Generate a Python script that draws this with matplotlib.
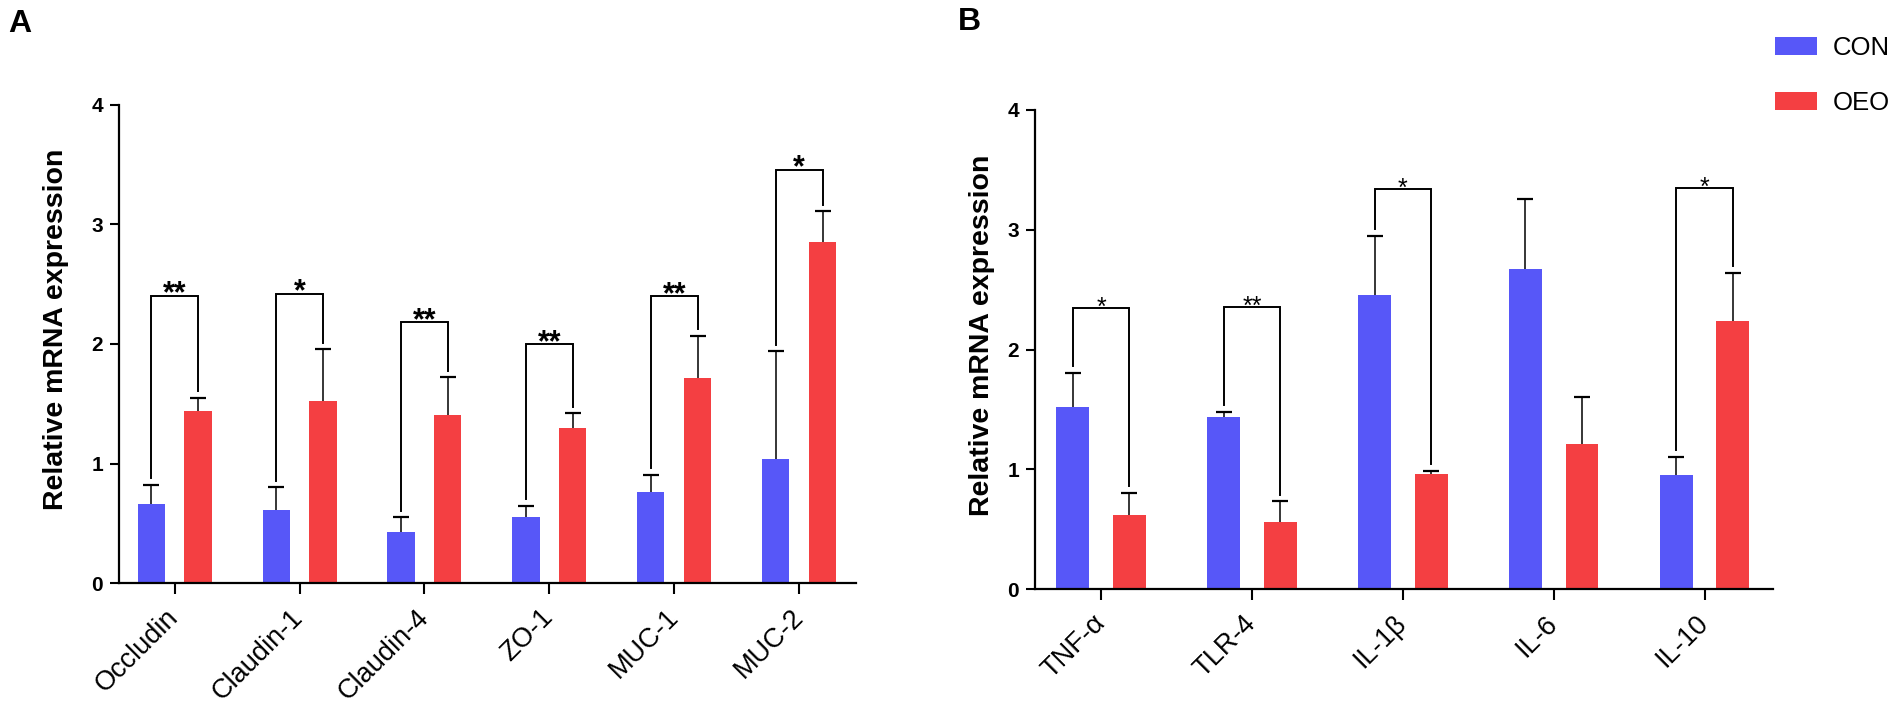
import numpy as np
import matplotlib
matplotlib.use('Agg')
import matplotlib.pyplot as plt
import matplotlib.transforms as mtransforms

plt.rcParams['font.family'] = ['Liberation Sans', 'DejaVu Sans']

# panel A: barrier genes
genes_a = ['Occludin', 'Claudin-1', 'Claudin-4', 'ZO-1', 'MUC-1', 'MUC-2']
con_a = [0.66, 0.61, 0.43, 0.55, 0.765, 1.04]
con_a_err = [0.16, 0.19, 0.12, 0.095, 0.14, 0.90]
oeo_a = [1.44, 1.525, 1.41, 1.30, 1.717, 2.85]
oeo_a_err = [0.11, 0.43, 0.31, 0.12, 0.35, 0.26]
brk_a = [2.405, 2.42, 2.18, 2.0, 2.40, 3.46]
star_a = ['**', '*', '**', '**', '**', '*']

# panel B: inflammatory genes
genes_b = ['TNF-α', 'TLR-4', 'IL-1β', 'IL-6', 'IL-10']
con_b = [1.52, 1.436, 2.455, 2.675, 0.95]
con_b_err = [0.285, 0.042, 0.495, 0.585, 0.155]
oeo_b = [0.617, 0.559, 0.958, 1.214, 2.24]
oeo_b_err = [0.185, 0.174, 0.03, 0.386, 0.40]
brk_b = [2.35, 2.355, 3.34, None, 3.35]
star_b = ['*', '**', '*', None, '*']

blue = '#5757F8'
red = '#F43F42'

fig = plt.figure(figsize=(19.02, 7.06), dpi=100)
ax1 = fig.add_axes([0.0626, 0.1742, 0.3875, 0.6771])
ax2 = fig.add_axes([0.5442, 0.1657, 0.3880, 0.6785])


def upper_err(ax, x, y, err):
    # one-sided error bar, cap only on top
    eb = ax.errorbar(x, y, yerr=[np.zeros(len(x)), err], fmt='none',
                     ecolor='black', elinewidth=1.1, capsize=5.5, capthick=1.6, zorder=3)
    eb[1][0].set_visible(False)


def draw_panel(ax, genes, con, con_err, oeo, oeo_err, brk, stars, xlim,
               star_size, star_weight, ylab_x, lab_dx):
    x = np.arange(len(genes))
    off = 0.1875
    w = 0.218
    ax.bar(x - off, con, w, color=blue, label='CON', zorder=2)
    ax.bar(x + off, oeo, w, color=red, label='OEO', zorder=2)
    upper_err(ax, x - off, con, con_err)
    upper_err(ax, x + off, oeo, oeo_err)

    # significance brackets
    gap = 0.055
    for i in range(len(genes)):
        if brk[i] is None:
            continue
        y_l = con[i] + con_err[i] + gap
        y_r = oeo[i] + oeo_err[i] + gap
        ax.plot([i - off, i - off, i + off, i + off], [y_l, brk[i], brk[i], y_r],
                color='black', lw=1.4, zorder=4, solid_joinstyle='miter')
        ax.annotate(stars[i], (i, brk[i]), xytext=(0, -5), textcoords='offset points',
                    ha='center', va='baseline', fontsize=star_size, fontweight=star_weight)

    ax.set_xlim(*xlim)
    ax.set_ylim(0, 4)
    ax.set_yticks([0, 1, 2, 3, 4])
    ax.set_xticks(x)
    ax.set_xticklabels(genes, rotation=45, ha='right', va='center',
                       rotation_mode='anchor', fontsize=19.5)
    shift = mtransforms.ScaledTranslation(lab_dx / 72, 0, fig.dpi_scale_trans)
    for lab in ax.get_xticklabels():
        lab.set_transform(lab.get_transform() + shift)
    for lab in ax.get_yticklabels():
        lab.set_fontweight('bold')
    ax.tick_params(axis='y', labelsize=15, length=6.5, width=1.5, pad=5)
    ax.tick_params(axis='x', length=8, width=1.5, pad=14)
    for s in ['top', 'right']:
        ax.spines[s].set_visible(False)
    for s in ['left', 'bottom']:
        ax.spines[s].set_linewidth(1.6)
    ax.set_ylabel('Relative mRNA expression', fontsize=20.5, fontweight='bold')
    ax.yaxis.set_label_coords(ylab_x, 0.53)


draw_panel(ax1, genes_a, con_a, con_a_err, oeo_a, oeo_a_err, brk_a, star_a,
           (-0.445, 5.456), 22, 'bold', -0.068, 16)
draw_panel(ax2, genes_b, con_b, con_b_err, oeo_b, oeo_b_err, brk_b, star_b,
           (-0.438, 4.454), 18, 'normal', -0.054, 11)

fig.text(8 / 1902, 1 - 9 / 706, 'A', fontsize=23, fontweight='bold', ha='left', va='top')
fig.text(958 / 1902, 1 - 7 / 706, 'B', fontsize=23, fontweight='bold', ha='left', va='top')

handles, labels = ax2.get_legend_handles_labels()
fig.legend(handles, labels, loc='upper left', bbox_to_anchor=(1775 / 1902, 1 - 36 / 706),
           frameon=False, fontsize=18.5, handlelength=1.64, handleheight=0.74,
           handletextpad=0.6, labelspacing=1.2, borderpad=0, borderaxespad=0)

plt.savefig('out.png', dpi=100)
